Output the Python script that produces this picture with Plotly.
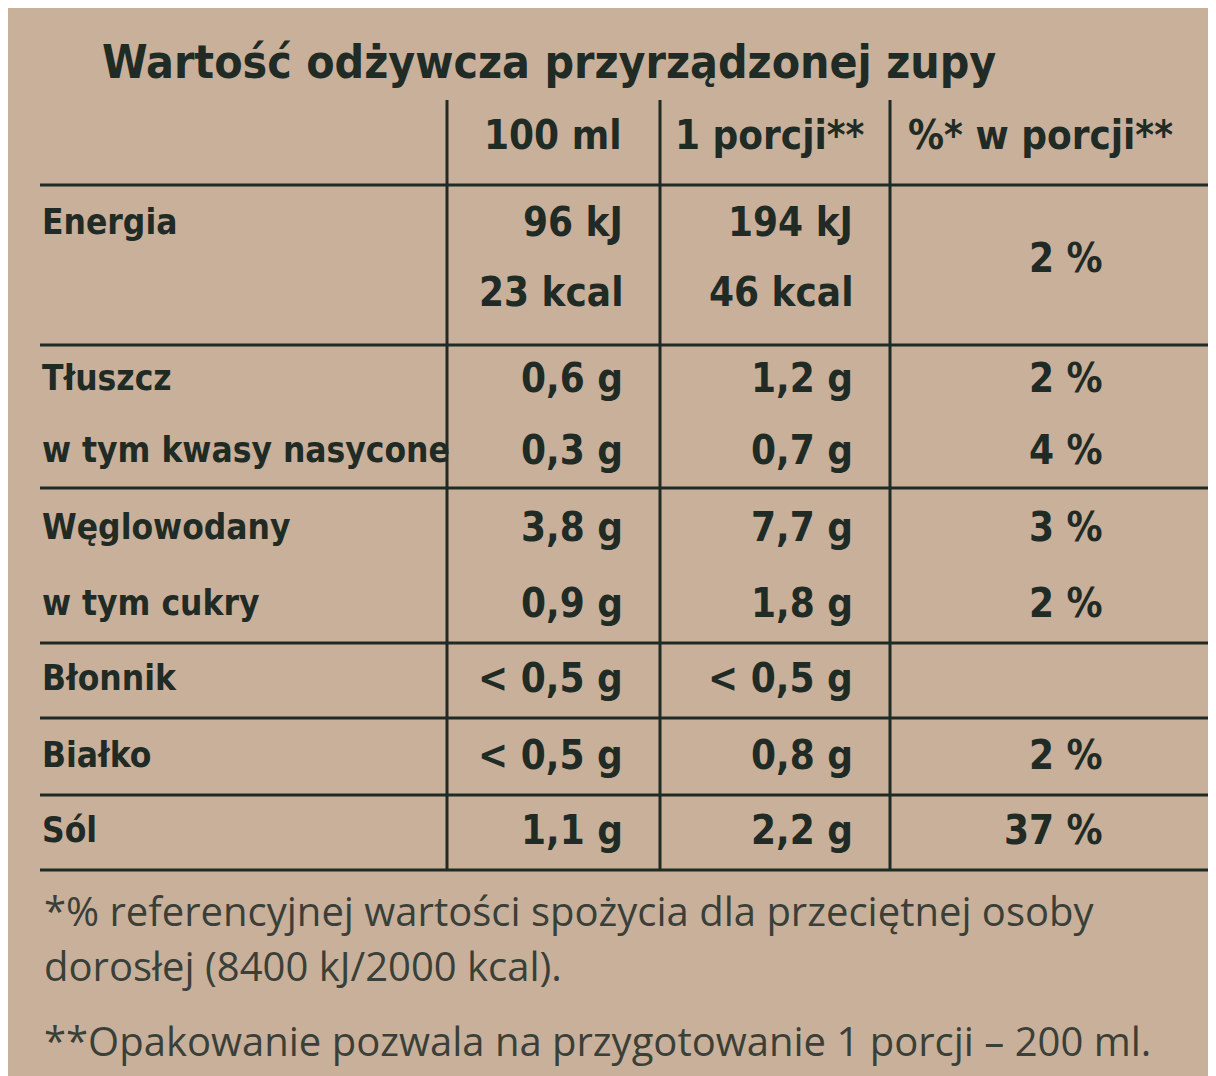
import plotly.graph_objects as go

title = "Wartość odżywcza przyrządzonej zupy"
headers = ["100 ml", "1 porcji**", "%* w porcji**"]
labels = ["Energia", "", "Tłuszcz", "w tym kwasy nasycone", "Węglowodany", "w tym cukry", "Błonnik", "Białko", "Sól"]
col_100ml = ["96 kJ", "23 kcal", "0,6 g", "0,3 g", "3,8 g", "0,9 g", "< 0,5 g", "< 0,5 g", "1,1 g"]
col_porcja = ["194 kJ", "46 kcal", "1,2 g", "0,7 g", "7,7 g", "1,8 g", "< 0,5 g", "0,8 g", "2,2 g"]
col_pct = ["2 %", "", "2 %", "4 %", "3 %", "2 %", "", "2 %", "37 %"]
footnotes = ["*% referencyjnej wartości spożycia dla przeciętnej osoby",
             "dorosłej (8400 kJ/2000 kcal).",
             "**Opakowanie pozwala na przygotowanie 1 porcji – 200 ml."]

row_y = [222, 292, 378, 450, 527, 603, 678, 755, 830]
ink = "#1f2b24"
F = "DejaVu Sans Condensed, Liberation Sans Narrow, Roboto, sans-serif"
fig = go.Figure()
ann = []
def t(x, y, s, anchor="left", size=40, bold=True, color=ink, fam=F):
    ann.append(dict(x=x, y=y, xref="x", yref="y", text=(f"<b>{s}</b>" if bold else s),
                    showarrow=False, xanchor=anchor, yanchor="middle",
                    font=dict(size=size, color=color, family=fam)))
t(100, 62, title, size=46)
for x, h in zip([552, 770, 1040], headers):
    t(x, 135, h, anchor="center")
for i, y in enumerate(row_y):
    if labels[i]:
        t(40, y, labels[i], size=35)
    t(625, y, col_100ml[i], anchor="right")
    t(855, y, col_porcja[i], anchor="right")
pct_y = list(row_y); pct_y[0] = 258
for i, y in enumerate(pct_y):
    if col_pct[i]:
        t(1105, y, col_pct[i], anchor="right")
for y, s in zip([910, 965, 1040], footnotes):
    t(42, y, s, size=40, bold=False, color="#3a3f38", fam="Open Sans, sans-serif")

shapes = []
for x in [447, 660, 890]:
    shapes.append(dict(type="line", x0=x, x1=x, y0=100, y1=870, line=dict(color=ink, width=3)))
for y in [185, 345, 488, 643, 718, 795, 870]:
    shapes.append(dict(type="line", x0=40, x1=1224, y0=y, y1=y, line=dict(color=ink, width=3)))

fig.update_layout(width=1216, height=1076, margin=dict(l=0, r=0, t=0, b=0),
                  paper_bgcolor="#c9b09b", plot_bgcolor="#c9b09b",
                  xaxis=dict(range=[8, 1224], visible=False, fixedrange=True),
                  yaxis=dict(range=[1084, 8], visible=False, fixedrange=True),
                  annotations=ann, shapes=shapes, showlegend=False)
fig.write_html("out.html")
